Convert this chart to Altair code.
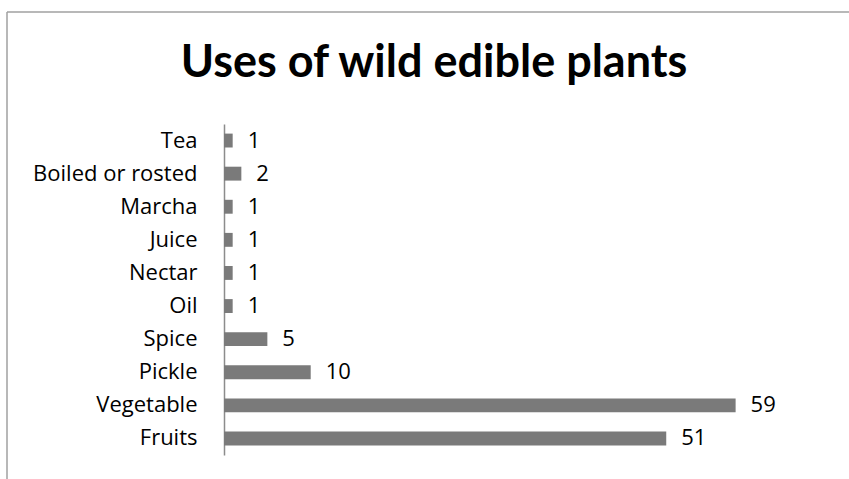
import altair as alt
import pandas as pd

categories = ["Tea", "Boiled or rosted", "Marcha", "Juice", "Nectar", "Oil",
              "Spice", "Pickle", "Vegetable", "Fruits"]
counts = [1, 2, 1, 1, 1, 1, 5, 10, 59, 51]
title_text = "Uses of wild edible plants"

df = pd.DataFrame({"use": categories, "count": counts})
one = pd.DataFrame({"a": [0]})

W, H = 607, 331
FONT = "Open Sans"

y = alt.Y("use:N", sort=categories, title=None,
          scale=alt.Scale(paddingInner=0.58, paddingOuter=0.29),
          axis=alt.Axis(domain=True, domainColor="#8c8c8c", domainWidth=1.5,
                        ticks=False, grid=False, labelPadding=27,
                        labelFontSize=22, labelFont=FONT, labelColor="#000000"))
x = alt.X("count:Q", scale=alt.Scale(domain=[0, 70], nice=False, zero=True), axis=None)

bars = alt.Chart(df).mark_bar(color="#7a7a7a").encode(x=x, y=y)
labels = alt.Chart(df).mark_text(align="left", baseline="middle", dx=15,
                                 fontSize=22, font=FONT, color="#000000").encode(
    x=x, y=y, text="count:Q")

title = alt.Chart(one).mark_text(fontSize=45, font="Lato", fontWeight="bold",
                                 color="#000000", align="center", baseline="alphabetic").encode(
    x=alt.value(210), y=alt.value(-47), text=alt.value(title_text))

frame_top = alt.Chart(one).mark_rule(color="#a0a0a0", strokeWidth=1.5).encode(
    x=alt.value(-217), x2=alt.value(W + 100), y=alt.value(-112))
frame_left = alt.Chart(one).mark_rule(color="#a0a0a0", strokeWidth=1.5).encode(
    x=alt.value(-217), y=alt.value(-112), y2=alt.value(H + 100))

chart = alt.layer(frame_top, frame_left, title, bars, labels).properties(
    width=W, height=H,
    autosize=alt.AutoSizeParams(type="none"),
    padding={"left": 224, "top": 124, "right": 18, "bottom": 24},
    background="white",
).configure_view(stroke=None)

chart.save("out.html", embed_options={"renderer": "svg", "actions": False})
